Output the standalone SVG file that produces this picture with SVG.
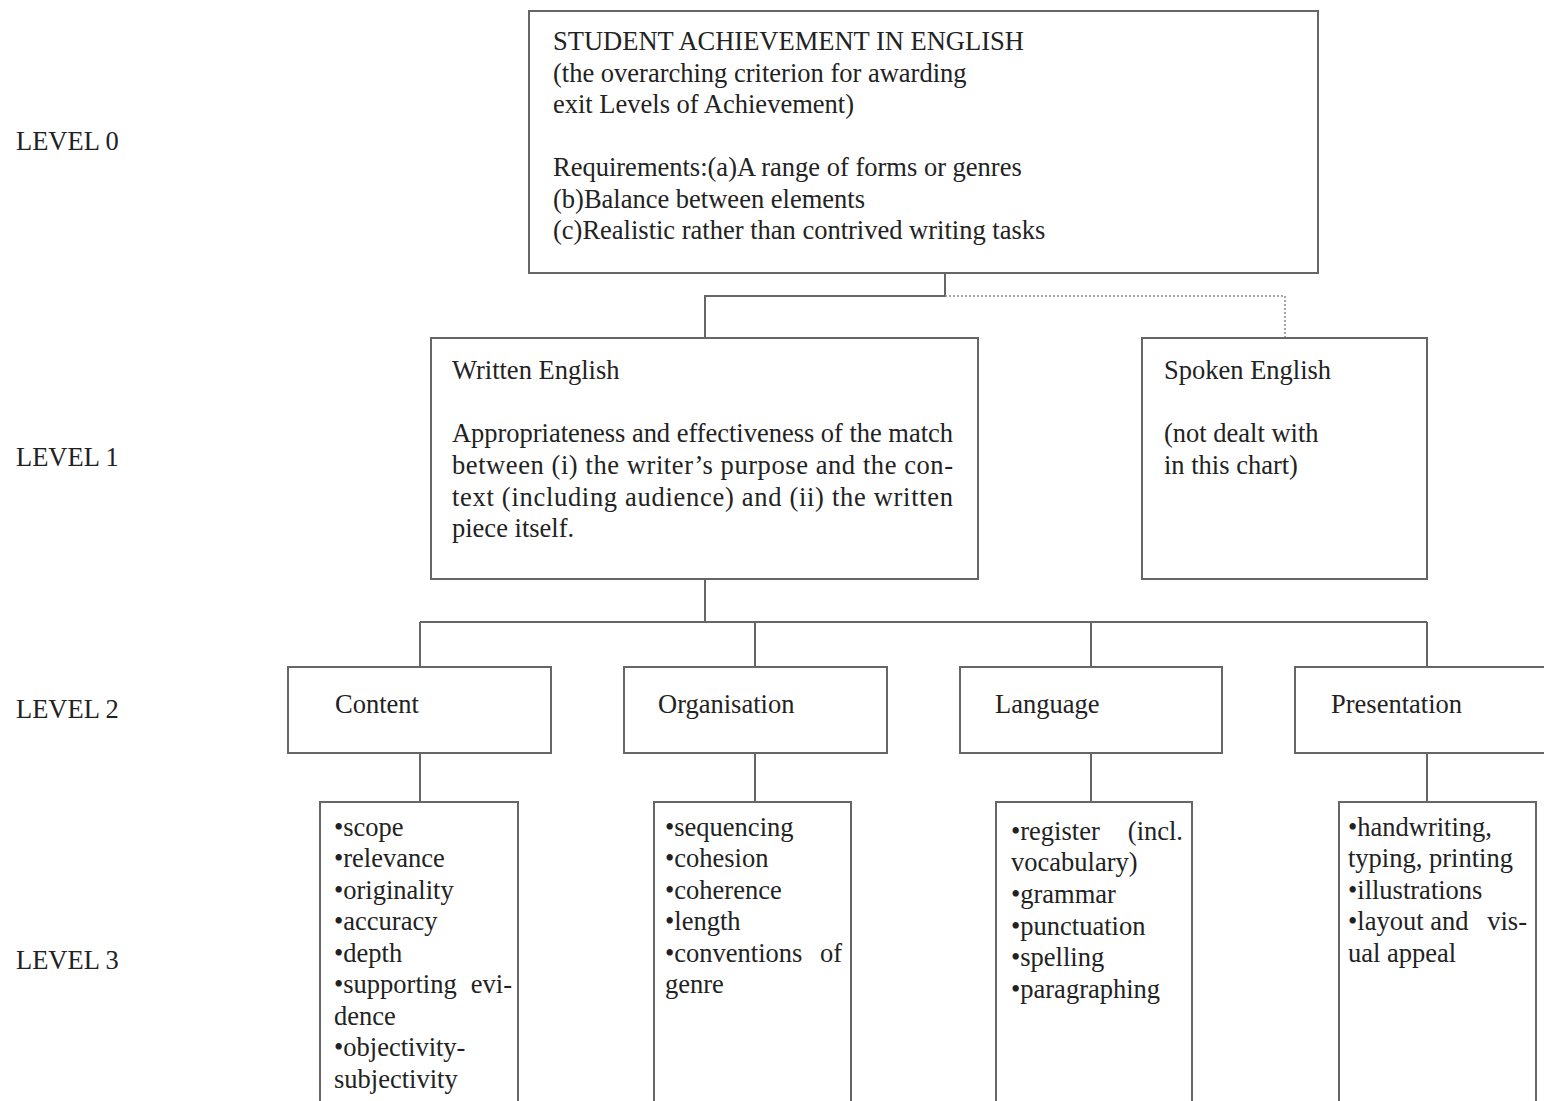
<svg xmlns="http://www.w3.org/2000/svg" width="1544" height="1101" viewBox="0 0 1544 1101">
<style>
text{font-family:"Liberation Serif","Times New Roman",serif;font-size:26.5px;fill:#222}
.box{fill:#fff;stroke:#666;stroke-width:2}
.ln{fill:none;stroke:#666;stroke-width:2}
.dot{fill:none;stroke:#888;stroke-width:1.5;stroke-dasharray:2 2}
</style>
<rect width="1544" height="1101" fill="#fff"/>
<g id="levels">
<text x="16" y="150">LEVEL 0</text>
<text x="16" y="466">LEVEL 1</text>
<text x="16" y="718">LEVEL 2</text>
<text x="16" y="969">LEVEL 3</text>
</g>
<g id="connectors">
<path class="ln" d="M945 273V296H705V338"/>
<path class="dot" d="M945 296H1285V338"/>
<path class="ln" d="M705 579V622M420 622H1427M420 622V667M755 622V667M1091 622V667M1427 622V667"/>
<path class="ln" d="M420 753V802M755 753V802M1091 753V802M1427 753V802"/>
</g>
<g id="root">
<rect class="box" x="529" y="11" width="789" height="262"/>
<text x="553" y="50">STUDENT ACHIEVEMENT IN ENGLISH</text>
<text x="553" y="82">(the overarching criterion for awarding</text>
<text x="553" y="113">exit Levels of Achievement)</text>
<text x="553" y="176">Requirements:(a)A range of forms or genres</text>
<text x="553" y="208">(b)Balance between elements</text>
<text x="553" y="239">(c)Realistic rather than contrived writing tasks</text>
</g>
<g id="written">
<rect class="box" x="431" y="338" width="547" height="241"/>
<text x="452" y="379">Written English</text>
<text x="452" y="442" textLength="501" lengthAdjust="spacing">Appropriateness and effectiveness of the match</text>
<text x="452" y="474" textLength="501" lengthAdjust="spacing">between (i) the writer’s purpose and the con-</text>
<text x="452" y="506" textLength="501" lengthAdjust="spacing">text (including audience) and (ii) the written</text>
<text x="452" y="537">piece itself.</text>
</g>
<g id="spoken">
<rect class="box" x="1142" y="338" width="285" height="241"/>
<text x="1164" y="379">Spoken English</text>
<text x="1164" y="442">(not dealt with</text>
<text x="1164" y="474">in this chart)</text>
</g>
<g id="content">
<rect class="box" x="288" y="667" width="263" height="86"/>
<text x="335" y="713">Content</text>
</g>
<g id="organisation">
<rect class="box" x="624" y="667" width="263" height="86"/>
<text x="658" y="713">Organisation</text>
</g>
<g id="language">
<rect class="box" x="960" y="667" width="262" height="86"/>
<text x="995" y="713">Language</text>
</g>
<g id="presentation">
<rect class="box" x="1295" y="667" width="263" height="86"/>
<text x="1331" y="713">Presentation</text>
</g>
<g id="content-items">
<rect class="box" x="320" y="802" width="198" height="320"/>
<text x="334" y="836">•scope</text>
<text x="334" y="867">•relevance</text>
<text x="334" y="899">•originality</text>
<text x="334" y="930">•accuracy</text>
<text x="334" y="962">•depth</text>
<text x="334" y="993">•supporting</text>
<text x="512" y="993" text-anchor="end">evi-</text>
<text x="334" y="1025">dence</text>
<text x="334" y="1056">•objectivity-</text>
<text x="334" y="1088">subjectivity</text>
</g>
<g id="organisation-items">
<rect class="box" x="654" y="802" width="197" height="320"/>
<text x="665" y="836">•sequencing</text>
<text x="665" y="867">•cohesion</text>
<text x="665" y="899">•coherence</text>
<text x="665" y="930">•length</text>
<text x="665" y="962">•conventions</text>
<text x="842" y="962" text-anchor="end">of</text>
<text x="665" y="993">genre</text>
</g>
<g id="language-items">
<rect class="box" x="996" y="802" width="196" height="320"/>
<text x="1011" y="840">•register</text>
<text x="1183" y="840" text-anchor="end">(incl.</text>
<text x="1011" y="871">vocabulary)</text>
<text x="1011" y="903">•grammar</text>
<text x="1011" y="935">•punctuation</text>
<text x="1011" y="966">•spelling</text>
<text x="1011" y="998">•paragraphing</text>
</g>
<g id="presentation-items">
<rect class="box" x="1339" y="802" width="197" height="320"/>
<text x="1348" y="836">•handwriting,</text>
<text x="1348" y="867">typing, printing</text>
<text x="1348" y="899">•illustrations</text>
<text x="1348" y="930">•layout and</text>
<text x="1527" y="930" text-anchor="end">vis-</text>
<text x="1348" y="962">ual appeal</text>
</g>
</svg>
